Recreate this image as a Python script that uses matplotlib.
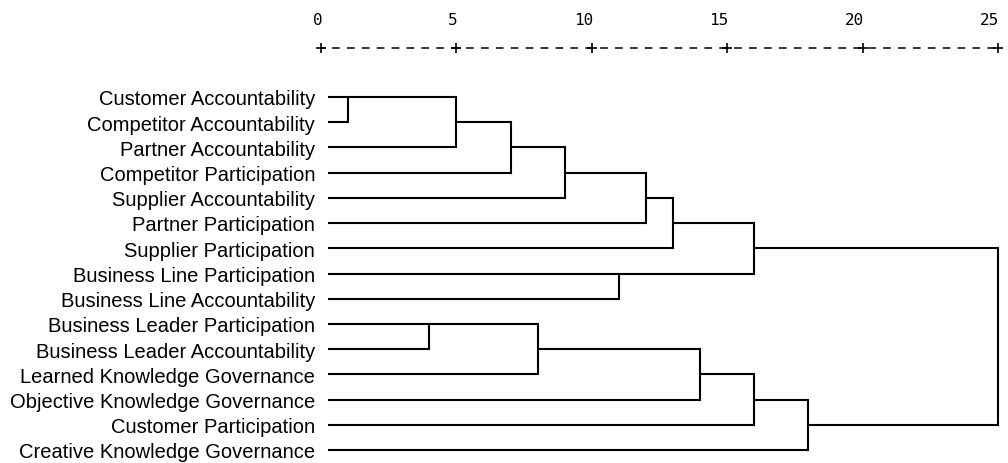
import matplotlib
matplotlib.use("Agg")
import matplotlib.pyplot as plt
import matplotlib.transforms as mtransforms

# ---------------- data ----------------
labels = [
    "Customer Accountability",
    "Competitor Accountability",
    "Partner Accountability",
    "Competitor Participation",
    "Supplier Accountability",
    "Partner Participation",
    "Supplier Participation",
    "Business Line Participation",
    "Business Line Accountability",
    "Business Leader Participation",
    "Business Leader Accountability",
    "Learned Knowledge Governance",
    "Objective Knowledge Governance",
    "Customer Participation",
    "Creative Knowledge Governance",
]
# merges: new cluster ids start at len(labels)
merge_left = [0, 15, 16, 17, 18, 19, 7, 20, 9, 23, 24, 25, 26, 22]
merge_right = [1, 2, 3, 4, 5, 6, 8, 21, 10, 11, 12, 13, 14, 27]
merge_dist = [1, 5, 7, 9, 12, 13, 11, 16, 4, 8, 14, 16, 18, 25]
tick_values = [0, 5, 10, 15, 20, 25]
leaf_start = 0.25

# ---------------- layout ----------------
W, H = 1008, 463
fig = plt.figure(figsize=(W / 100, H / 100), dpi=100)
ax = fig.add_axes([0, 0, 1, 1])
ax.set_axis_off()

px0, px25 = 321.0, 998.0
scale = (px25 - px0) / 25.0
ax.set_xlim(-px0 / scale, (W - px0) / scale)
row0, drow = 97.0, 25.22
ax.set_ylim((H - row0) / drow, -row0 / drow)

lw = 1.5
col = "black"

n = len(labels)
ypos = {i: i for i in range(n)}
xpos = {i: leaf_start for i in range(n)}
for k, (a, b, d) in enumerate(zip(merge_left, merge_right, merge_dist)):
    ya, yb = ypos[a], ypos[b]
    ax.plot([xpos[a], d], [ya, ya], color=col, lw=lw, solid_capstyle="butt")
    ax.plot([xpos[b], d], [yb, yb], color=col, lw=lw, solid_capstyle="butt")
    ax.plot([d, d], [ya, yb], color=col, lw=lw, solid_capstyle="projecting")
    new = n + k
    ypos[new] = (ya + yb) // 2
    xpos[new] = d

# leaf labels
lab_off = mtransforms.offset_copy(ax.transData, fig=fig, x=0, y=-6.0, units="points")
for i, lab in enumerate(labels):
    ax.text(-0.22, i, lab, ha="right", va="baseline", fontsize=14.5,
            family=["Liberation Sans", "DejaVu Sans"], color="black",
            transform=lab_off)

# top ascii-like scale
axis_y = (48 - row0) / drow
label_y = (20.5 - row0) / drow
char_px = scale / 2.0  # one monospace cell
on_px = 7.0
off_px = char_px - on_px
pt = 0.72
line, = ax.plot([tick_values[0], tick_values[-1]], [axis_y, axis_y], color=col, lw=1.1)
line.set_linestyle((on_px / 2 * pt, (on_px * pt, off_px * pt)))
ax.plot(tick_values, [axis_y] * len(tick_values), ls="none", marker="+",
        ms=7, mew=1.2, color=col)
for t in tick_values:
    ax.text(t + 0.05, label_y, str(t), ha="right", va="center", fontsize=11.5,
            family="DejaVu Sans Mono", color="black")

fig.savefig("out.png", dpi=100)
